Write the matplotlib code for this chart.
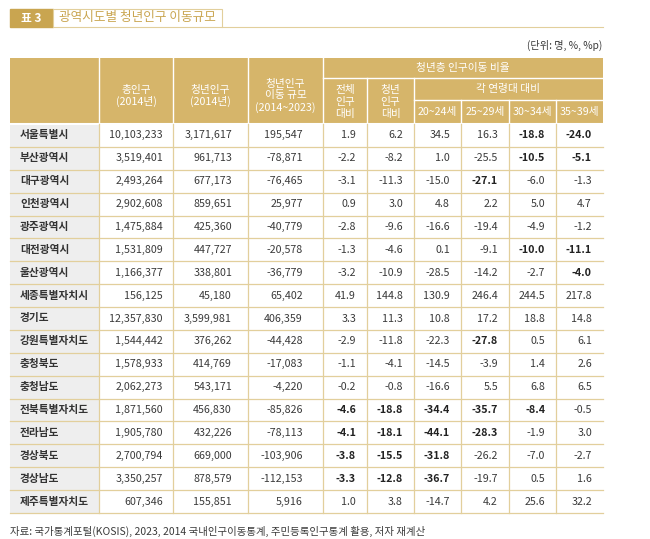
import matplotlib.pyplot as plt
from matplotlib.patches import Rectangle

plt.rcParams['font.family'] = ['Noto Sans CJK KR', 'DejaVu Sans']

# ---- data ----
regions = ["서울특별시", "부산광역시", "대구광역시", "인천광역시", "광주광역시", "대전광역시",
           "울산광역시", "세종특별자치시", "경기도", "강원특별자치도", "충청북도", "충청남도",
           "전북특별자치도", "전라남도", "경상북도", "경상남도", "제주특별자치도"]
total_pop = [10103233, 3519401, 2493264, 2902608, 1475884, 1531809, 1166377, 156125, 12357830,
             1544442, 1578933, 2062273, 1871560, 1905780, 2700794, 3350257, 607346]
youth_pop = [3171617, 961713, 677173, 859651, 425360, 447727, 338801, 45180, 3599981,
             376262, 414769, 543171, 456830, 432226, 669000, 878579, 155851]
youth_move = [195547, -78871, -76465, 25977, -40779, -20578, -36779, 65402, 406359,
              -44428, -17083, -4220, -85826, -78113, -103906, -112153, 5916]
rate_total = [1.9, -2.2, -3.1, 0.9, -2.8, -1.3, -3.2, 41.9, 3.3, -2.9, -1.1, -0.2, -4.6, -4.1, -3.8, -3.3, 1.0]
rate_youth = [6.2, -8.2, -11.3, 3.0, -9.6, -4.6, -10.9, 144.8, 11.3, -11.8, -4.1, -0.8, -18.8, -18.1, -15.5, -12.8, 3.8]
rate_20_24 = [34.5, 1.0, -15.0, 4.8, -16.6, 0.1, -28.5, 130.9, 10.8, -22.3, -14.5, -16.6, -34.4, -44.1, -31.8, -36.7, -14.7]
rate_25_29 = [16.3, -25.5, -27.1, 2.2, -19.4, -9.1, -14.2, 246.4, 17.2, -27.8, -3.9, 5.5, -35.7, -28.3, -26.2, -19.7, 4.2]
rate_30_34 = [-18.8, -10.5, -6.0, 5.0, -4.9, -10.0, -2.7, 244.5, 18.8, 0.5, 1.4, 6.8, -8.4, -1.9, -7.0, 0.5, 25.6]
rate_35_39 = [-24.0, -5.1, -1.3, 4.7, -1.2, -11.1, -4.0, 217.8, 14.8, 6.1, 2.6, 6.5, -0.5, 3.0, -2.7, 1.6, 32.2]
# bold cells: (row index, rate column index 0..5)
bold_cells = {(0, 4), (0, 5), (1, 4), (1, 5), (2, 3), (5, 4), (5, 5), (6, 5), (9, 3),
              (12, 0), (12, 1), (12, 2), (12, 3), (12, 4),
              (13, 0), (13, 1), (13, 2), (13, 3),
              (14, 0), (14, 1), (14, 2), (15, 0), (15, 1), (15, 2)}
age_labels = ["20~24세", "25~29세", "30~34세", "35~39세"]

# ---- styling ----
GOLD = "#d6b56a"
GOLD_DARK = "#c9a550"
LINE = "#e2cf9c"
GRAY = "#eeeeee"
TEXT = "#3a3a3a"

fig = plt.figure(figsize=(6.5, 5.39), dpi=100)
ax = fig.add_axes([0, 0, 1, 1])
ax.set_xlim(0, 650)
ax.set_ylim(539, 0)
ax.axis("off")

# title block
ax.add_patch(Rectangle((10, 9), 43, 18, facecolor=GOLD_DARK, edgecolor=GOLD_DARK))
ax.text(31.5, 18, "표 3", color="white", fontsize=8.5, fontweight="bold", ha="center", va="center")
ax.add_patch(Rectangle((53, 9), 169, 18, facecolor="white", edgecolor=LINE, lw=0.8))
ax.text(59, 17.5, "광역시도별 청년인구 이동규모", color=GOLD_DARK, fontsize=9.1, ha="left", va="center")
ax.plot([222, 603], [27, 27], color=LINE, lw=0.8)
ax.text(602, 45, "(단위: 명, %, %p)", color=TEXT, fontsize=7.3, ha="right", va="center")

# columns
col_x = [10, 99, 173, 248, 323, 367, 414, 461, 509, 556, 603]
top, h1, h2, hdr_bot = 58, 78, 100, 124
row_h = (513 - hdr_bot) / len(regions)

# header background
ax.add_patch(Rectangle((col_x[0], top), col_x[-1] - col_x[0], hdr_bot - top, facecolor=GOLD, edgecolor="none"))
wl = dict(color="white", lw=1.0)
for x in col_x[1:5]:
    ax.plot([x, x], [top, hdr_bot], **wl)
for x in col_x[5:7]:
    ax.plot([x, x], [h1, hdr_bot], **wl)
for x in col_x[7:10]:
    ax.plot([x, x], [h2, hdr_bot], **wl)
ax.plot([col_x[4], col_x[-1]], [h1, h1], **wl)
ax.plot([col_x[6], col_x[-1]], [h2, h2], **wl)
ax.plot([col_x[0], col_x[-1]], [hdr_bot, hdr_bot], color="white", lw=1.5)

hk = dict(color="white", fontsize=7.7, ha="center", va="center", linespacing=1.2)
ax.text((col_x[1] + col_x[2]) / 2, 96, "총인구\n(2014년)", **hk)
ax.text((col_x[2] + col_x[3]) / 2, 96, "청년인구\n(2014년)", **hk)
ax.text((col_x[3] + col_x[4]) / 2, 96, "청년인구\n이동 규모\n(2014~2023)", **hk)
ax.text((col_x[4] + col_x[-1]) / 2, 68, "청년층 인구이동 비율", **hk)
ax.text((col_x[6] + col_x[-1]) / 2, 89, "각 연령대 대비", **hk)
ax.text((col_x[4] + col_x[5]) / 2, 102, "전체\n인구\n대비", **hk)
ax.text((col_x[5] + col_x[6]) / 2, 102, "청년\n인구\n대비", **hk)
for i, lab in enumerate(age_labels):
    ax.text((col_x[6 + i] + col_x[7 + i]) / 2, 112.5, lab, **hk)

# body
ax.add_patch(Rectangle((col_x[0], hdr_bot), col_x[1] - col_x[0], row_h * len(regions),
                       facecolor=GRAY, edgecolor="none"))
rates = [rate_total, rate_youth, rate_20_24, rate_25_29, rate_30_34, rate_35_39]
pad_big = [10, 16, 20]
for r, name in enumerate(regions):
    yc = hdr_bot + row_h * (r + 0.5)
    yb = hdr_bot + row_h * (r + 1)
    ax.plot([col_x[0], col_x[-1]], [yb, yb], color=LINE, lw=0.9)
    ax.text(20, yc, name, color="#333333", fontsize=7.7, fontweight="bold", ha="left", va="center")
    for j, vals in enumerate([total_pop, youth_pop, youth_move]):
        ax.text(col_x[j + 2] - pad_big[j], yc, f"{vals[r]:,}", color=TEXT, fontsize=7.7,
                ha="right", va="center")
    for j, vals in enumerate(rates):
        bold = (r, j) in bold_cells
        ax.text(col_x[j + 5] - 11, yc, f"{vals[r]:.1f}", color="#222222" if bold else TEXT,
                fontsize=7.7, fontweight="bold" if bold else "normal", ha="right", va="center")
for x in col_x[1:-1]:
    ax.plot([x, x], [hdr_bot, 513], color=LINE, lw=0.9)

ax.text(10, 531, "자료: 국가통계포털(KOSIS), 2023, 2014 국내인구이동통계, 주민등록인구통계 활용, 저자 재계산",
        color=TEXT, fontsize=7.5, ha="left", va="center")

fig.savefig("out.png", dpi=100)
